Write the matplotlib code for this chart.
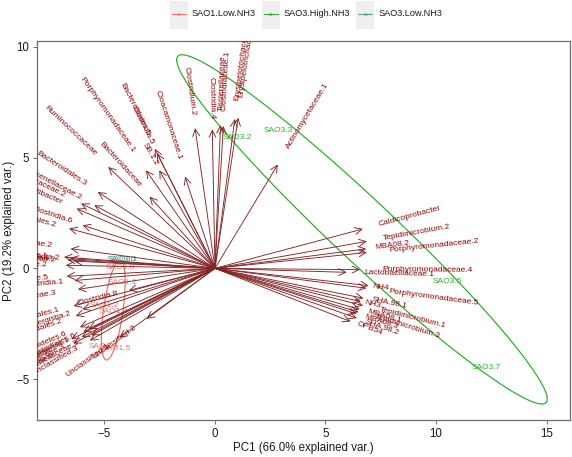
import numpy as np
import matplotlib
matplotlib.use("Agg")
import matplotlib.pyplot as plt
from matplotlib.patches import Rectangle
from matplotlib.lines import Line2D

plt.rcParams['font.family'] = ['Liberation Sans', 'DejaVu Sans']

# ---- variable loadings (arrow tips) ----
var_names = [
    "Caldicoprobacter", "Tepidimicrobium.2", "Porphyromonadaceae.2", "MBA08.2",
    "Porphyromonadaceae.4", "Lactobacillaceae.1", "NH4", "Porphyromonadaceae.5",
    "SHA.98.1", "NH3", "Tepidimicrobium.1", "MBA08.1", "Tepidimicrobium.3",
    "MBA08.3", "SHA.98.2", "OPB54",
    "Actinomycetaceae.1", "Clostridium.2", "Clostridia.4", "Tissierellaceae",
    "Clostridiaceae.1", "Erysipelotrichaceae", "Erysipelotrichaceae.1",
    "Cloacamonaceae.1", "Bacteroidales.5", "Clostridia.5", "SB.1.2",
    "Porphyromonadaceae.1", "Ruminococcaceae", "Bacteroidaceae", "Bacteroidales.3",
    "Lachnospiraceae.2", "Rikenellaceae.2", "Sedimentibacter", "Clostridia.6",
    "Clostridiales.2", "Ruminococcaceae.2", "Synergistaceae.1", "Lachnospiraceae.1",
    "Clostridia.2", "Anaerolineaceae.2", "Thermotogaceae.2", "Spirochaetaceae.5",
    "Clostridia.1", "Porphyromonadaceae.3", "Clostridia.8", "Bacteroidales.1",
    "Synergistia.2", "Bacteroidales.2", "Unclassified.2", "Unclassified.1",
    "Bacteroidetes.6", "Pseudomonas.1", "Clostridiales.6", "Unclassified.3",
    "Ruminococcaceae.3", "Rikenellaceae.3", "Syntrophomonadaceae", "Porphyromonadaceae.6",
]
var_x = [
    6.69, 6.87, 6.87, 6.84,
    6.56, 5.96, 6.95, 6.85,
    6.72, 6.6, 6.7, 6.55, 6.5,
    6.4, 6.42, 6.13,
    2.84, -0.9, -0.12, 0.25,
    0.38, 0.9, 1.05,
    -1.35, -2.72, -2.62, -2.52,
    -3.12, -4.83, -2.96, -5.3,
    -6.06, -5.46, -6.26, -5.99,
    -6.6, -6.53, -6.83, -6.68,
    -6.53, -6.38, -6.75, -6.71,
    -6.36, -6.2, -3.9, -6.4,
    -6.0, -6.3, -3.09, -4.32,
    -6.11, -5.96, -5.73, -5.66,
    -6.03, -5.58, -6.5, -6.4,
]
var_y = [
    1.78, 1.22, 0.72, 0.88,
    -0.06, -0.18, -0.78, -0.9,
    -1.35, -1.5, -1.68, -1.85, -1.98,
    -2.05, -2.25, -2.4,
    4.69, 6.33, 6.28, 6.47,
    6.43, 6.75, 6.8,
    4.14, 5.4, 5.2, 4.43,
    4.43, 4.58, 3.24, 3.45,
    2.93, 2.85, 2.7, 1.95,
    1.8, 0.89, 0.51, 0.39,
    0.44, 0.33, 0.14, -0.36,
    -0.55, -0.95, -1.0, -1.7,
    -1.85, -2.15, -2.28, -3.13,
    -2.66, -2.88, -2.73, -3.26,
    -3.11, -3.03, -3.2, -3.4,
]

# ---- sample scores ----
sample_names = ["SAO1.0", "SAO1.1", "SAO1.2", "SAO1.3", "SAO1.4", "SAO1.5",
                "SAO3.0", "SAO3.1",
                "SAO3.2", "SAO3.3", "SAO3.5", "SAO3.7"]
sample_x = [-4.3, -4.2, -5.0, -4.6, -5.05, -4.45,
            -4.25, -4.15,
            1.0, 2.85, 10.5, 12.25]
sample_y = [0.05, -0.62, -1.67, -1.95, -3.55, -3.6,
            0.4, 0.42,
            5.9, 6.24, -0.6, -4.5]
sample_group = ["SAO1.Low.NH3"] * 6 + ["SAO3.Low.NH3"] * 2 + ["SAO3.High.NH3"] * 4

groups = ["SAO1.Low.NH3", "SAO3.High.NH3", "SAO3.Low.NH3"]
group_colors = ["#F0726A", "#2DB22D", "#5B9E96"]

x_ticks = [-5, 0, 5, 10, 15]
y_ticks = [-5, 0, 5, 10]
x_label = "PC1 (66.0% explained var.)"
y_label = "PC2 (19.2% explained var.)"

arrow_color = "#832424"
label_color = "#8B0000"

W, H = 572, 457
fig = plt.figure(figsize=(W / 100, H / 100), dpi=100)
ax = fig.add_axes([37 / W, (H - 420) / H, 533 / W, 379 / H])
ax.set_xlim(-8.05, 16.06)
ax.set_ylim(-6.85, 10.27)

for s in ax.spines.values():
    s.set_color("#6e6e6e")
    s.set_linewidth(0.9)
ax.set_xticks(x_ticks)
ax.set_yticks(y_ticks)
ax.tick_params(direction="out", length=3, width=0.7, colors="#6e6e6e",
               labelcolor="#1a1a1a", labelsize=8.3, pad=2.5)
ax.set_xlabel(x_label, fontsize=8.3, labelpad=2, color="#1a1a1a")
ax.set_ylabel(y_label, fontsize=8.3, labelpad=1, color="#1a1a1a")


def data_ellipse(px, py, prob=0.68, n=100):
    pts = np.column_stack([px, py])
    mu = pts.mean(axis=0)
    sigma = np.cov(pts, rowvar=False)
    ed = np.sqrt(-2 * np.log(1 - prob))
    theta = np.linspace(-np.pi, np.pi, n)
    circle = np.column_stack([np.cos(theta), np.sin(theta)])
    L = np.linalg.cholesky(sigma)
    return circle @ L.T * ed + mu


# ellipses
sx = np.array(sample_x)
sy = np.array(sample_y)
sg = np.array(sample_group)
for g, c in zip(groups, group_colors):
    m = sg == g
    if m.sum() >= 3:
        e = data_ellipse(sx[m], sy[m])
        ax.plot(e[:, 0], e[:, 1], color=c, lw=0.9, zorder=2)

# sample labels
for n_, x, y, g in zip(sample_names, sample_x, sample_y, sample_group):
    ax.text(x, y, n_, color=group_colors[groups.index(g)], fontsize=6,
            ha="center", va="center", zorder=3, clip_on=True)

# arrows
for x, y in zip(var_x, var_y):
    ax.annotate("", xy=(x, y), xytext=(0, 0),
                arrowprops=dict(arrowstyle="->,head_length=0.5,head_width=0.25",
                                color=arrow_color, lw=0.65, shrinkA=0, shrinkB=0),
                annotation_clip=False, zorder=4)

# variable labels (ggbiplot style: angle = atan(y/x), hjust = (1 - 1.5*sign(x))/2)
renderer = fig.canvas.get_renderer()
for name, x, y in zip(var_names, var_x, var_y):
    ang = np.degrees(np.arctan(y / x))
    t = ax.text(0, 0, name, fontsize=6)
    w = t.get_window_extent(renderer).width
    t.remove()
    off = 0.25 * w * 72 / fig.dpi
    sgn = 1 if x > 0 else -1
    dx = sgn * off * np.cos(np.radians(ang))
    dy = sgn * off * np.sin(np.radians(ang))
    a = ax.annotate(name, xy=(x, y), xytext=(dx, dy), textcoords="offset points",
                    rotation=ang, rotation_mode="anchor",
                    ha="left" if x > 0 else "right", va="center",
                    fontsize=6, color=label_color,
                    annotation_clip=False, zorder=5)
    a.set_clip_on(True)
    a.set_clip_box(ax.bbox)
    a.set_clip_path(ax.patch)

# legend at top (manual, ggplot-like keys)
key_w, key_h = 18, 28
key_top = 1
gap_kt, gap_items = 4, 6
texts_w = []
for g in groups:
    t = fig.text(0, 0, g, fontsize=6.6)
    texts_w.append(t.get_window_extent(renderer).width)
    t.remove()
total = sum(key_w + gap_kt + tw for tw in texts_w) + gap_items * (len(groups) - 1)
cx = 306
xp = cx - total / 2
yc = 14
for g, c, tw in zip(groups, group_colors, texts_w):
    fig.patches.append(Rectangle((xp / W, 1 - (key_top + key_h) / H), key_w / W, key_h / H,
                                 transform=fig.transFigure, facecolor="#EFEFEF",
                                 edgecolor="none"))
    fig.lines.append(Line2D([(xp + 2) / W, (xp + key_w - 2) / W], [1 - yc / H, 1 - yc / H],
                            transform=fig.transFigure, color=c, lw=0.8))
    fig.text((xp + key_w / 2) / W, 1 - (yc + 1) / H, "a", color=c, fontsize=4.5,
             ha="center", va="center")
    fig.text((xp + key_w + gap_kt) / W, 1 - yc / H, g, fontsize=6.6, color="#1a1a1a",
             ha="left", va="center")
    xp += key_w + gap_kt + tw + gap_items

fig.savefig("out.png", dpi=100)
